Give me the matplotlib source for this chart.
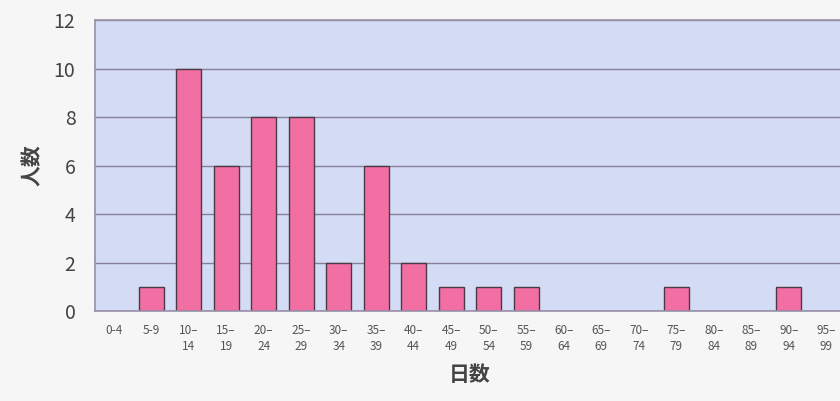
import matplotlib
matplotlib.use("Agg")
import matplotlib.pyplot as plt

plt.rcParams['font.family'] = ['Noto Sans CJK JP', 'DejaVu Sans']

categories = ["0-4", "5-9", "10–\n14", "15–\n19", "20–\n24", "25–\n29", "30–\n34", "35–\n39",
              "40–\n44", "45–\n49", "50–\n54", "55–\n59", "60–\n64", "65–\n69", "70–\n74",
              "75–\n79", "80–\n84", "85–\n89", "90–\n94", "95–\n99"]
counts = [0, 1, 10, 6, 8, 8, 2, 6, 2, 1, 1, 1, 0, 0, 0, 1, 0, 0, 1, 0]
yticks = [0, 2, 4, 6, 8, 10, 12]

fig = plt.figure(figsize=(8.4, 4.01), dpi=100, facecolor='#f6f6f6')
ax = fig.add_axes([0.113, 0.2244, 0.893, 0.7256])
ax.set_facecolor('#d3dcf4')
x = list(range(len(categories)))
ax.bar(x, counts, width=0.66, color='#f26fa3', edgecolor='#4a3a45', linewidth=1.0, zorder=3)
ax.set_ylim(0, 12)
ax.set_xlim(-0.5, 19.5)
ax.set_yticks(yticks)
ax.set_yticklabels([str(v) for v in yticks], fontsize=14, color='#444444')
ax.yaxis.grid(True, color='#8a7f9a', linewidth=1.0, zorder=1)
ax.set_axisbelow(True)
for s in ax.spines.values():
    s.set_color('#9a8fa8')
    s.set_linewidth(1.2)
ax.spines['bottom'].set_zorder(4)
ax.tick_params(axis='y', length=0, pad=14)
ax.set_xticks(x)
ax.set_xticklabels(categories, fontsize=8.5, color='#555555', linespacing=1.35, va='top')
ax.tick_params(axis='x', length=0, pad=9)
ax.set_xlabel("日数", fontsize=15, color='#444444', labelpad=8, fontweight='bold')
ax.set_ylabel("人数", fontsize=15, color='#444444', labelpad=8, fontweight='bold')
fig.savefig("out.png", dpi=100, facecolor=fig.get_facecolor())
